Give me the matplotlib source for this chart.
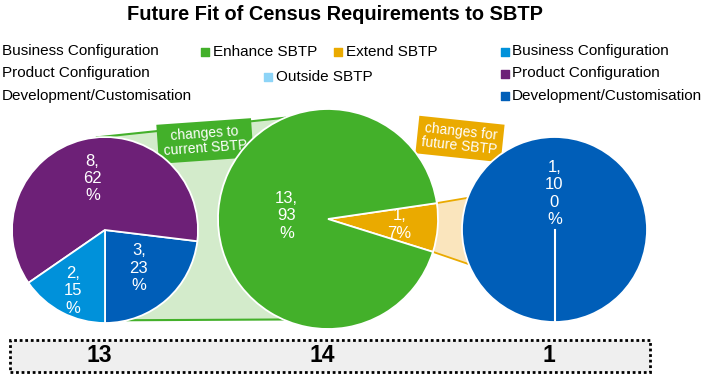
import numpy as np
import matplotlib
matplotlib.use('Agg')
import matplotlib.pyplot as plt
from matplotlib.patches import Polygon, Rectangle, Circle

plt.rcParams['font.family'] = ['Liberation Sans', 'DejaVu Sans']

# categories and counts for each of the three pies
left_names = ['Development/Customisation', 'Product Configuration', 'Business Configuration']
left_values = [3, 8, 2]
mid_names = ['Extend SBTP', 'Enhance SBTP']
mid_values = [1, 13]
right_names = ['Development/Customisation']
right_values = [1]

legend_plain = ['Business Configuration', 'Product Configuration', 'Development/Customisation']
legend_mid = ['Enhance SBTP', 'Extend SBTP', 'Outside SBTP']
legend_right = ['Business Configuration', 'Product Configuration', 'Development/Customisation']
band_texts = ['changes to\ncurrent SBTP', 'changes for\nfuture SBTP']
title = 'Future Fit of Census Requirements to SBTP'

colors = {
    'Business Configuration': '#0091DA',
    'Product Configuration': '#6D2077',
    'Development/Customisation': '#005EB8',
    'Enhance SBTP': '#43B02A',
    'Extend SBTP': '#EAAA00',
    'Outside SBTP': '#8DD4F7',
}

W, H = 706, 376
fig = plt.figure(figsize=(W / 100, H / 100), dpi=100)
ax = fig.add_axes([0, 0, 1, 1])


def slice_label(v, total):
    pct = str(int(round(100 * v / total)))
    if len(pct) == 1:
        tail = [pct + '%']
    else:
        tail = [pct[i:i + 2] for i in range(0, len(pct), 2)] + ['%']
    return '\n'.join(['%d,' % v] + tail)


def draw_pie(values, names, center, radius, start, dists):
    wedges, _ = ax.pie(values, colors=[colors[n] for n in names], startangle=start,
                       counterclock=True, center=center, radius=radius,
                       wedgeprops=dict(edgecolor='white', linewidth=1.3, zorder=3))
    clip = Circle(center, radius, transform=ax.transData)
    total = sum(values)
    for w, v, d in zip(wedges, values, dists):
        mid = np.deg2rad((w.theta1 + w.theta2) / 2)
        x = center[0] + d * radius * np.cos(mid)
        y = center[1] + d * radius * np.sin(mid)
        t = ax.text(x, y, slice_label(v, total), color='white', fontsize=12,
                    ha='center', va='center', zorder=4)
        t.set_clip_path(clip)
    return wedges


def on_circle(center, radius, ang):
    a = np.deg2rad(ang)
    return center[0] + radius * np.cos(a), center[1] + radius * np.sin(a)


c1, r1 = (105, 146), 93
c2, r2 = (328, 157), 110
c3, r3 = (554.5, 146.5), 92.5

w1 = draw_pie(left_values, left_names, c1, r1, -90, [0.55, 0.57, 0.74])
w2 = draw_pie(mid_values, mid_names, c2, r2, -17.4, [0.65, 0.38])
w3 = draw_pie(right_values, right_names, c3, r3, -90, [0.39])

# single-slice pie still shows its seam
sx, sy = on_circle(c3, r3, w3[0].theta1)
ax.plot([c3[0], sx], [c3[1], sy], color='white', lw=1.5, zorder=3.5)

# band joining the left pie to the green pie
lt, lb = on_circle(c1, r1, 95), on_circle(c1, r1, -76)
rt, rb = on_circle(c2, r2, 113), on_circle(c2, r2, 246)
ax.add_patch(Polygon([lt, rt, rb, lb], closed=True, fc='#D3EBCB', ec='none', zorder=1))
ax.plot([lt[0], rt[0]], [lt[1], rt[1]], color=colors['Enhance SBTP'], lw=1.5, zorder=1.5)
ax.plot([lb[0], rb[0]], [lb[1], rb[1]], color=colors['Enhance SBTP'], lw=1.5, zorder=1.5)

# band joining the orange slice to the right pie
ext = w2[0]
ot, ob = on_circle(c2, r2, ext.theta2), on_circle(c2, r2, ext.theta1)
bt, bb = on_circle(c3, r3, 160), on_circle(c3, r3, 202)
ax.add_patch(Polygon([ot, bt, bb, ob], closed=True, fc='#FAE5BD', ec='none', zorder=1))
ax.plot([ot[0], bt[0]], [ot[1], bt[1]], color=colors['Extend SBTP'], lw=1.3, zorder=1.5)
ax.plot([ob[0], bb[0]], [ob[1], bb[1]], color=colors['Extend SBTP'], lw=1.3, zorder=1.5)

ax.text(205, 235, band_texts[0], color='white', fontsize=10, ha='center', va='center',
        rotation=4, linespacing=1.0, zorder=2,
        bbox=dict(boxstyle='square,pad=0.4', fc=colors['Enhance SBTP'], ec='none'))
ax.text(460, 237, band_texts[1], color='white', fontsize=10, ha='center', va='center',
        rotation=-6, linespacing=1.0, zorder=2,
        bbox=dict(boxstyle='square,pad=0.35', fc=colors['Extend SBTP'], ec='none'))

ax.text(334.5, 362, title, fontsize=14.4, fontweight='bold', ha='center', va='center')

# legends
rows = [324.5, 302.5, 280]
for name, y in zip(legend_plain, rows):
    ax.text(2, y, name, fontsize=11, ha='left', va='center')
mid_pos = [(205, 324.5), (338, 324.5), (268, 299.3)]
for name, (x, y) in zip(legend_mid, mid_pos):
    ax.scatter([x], [y], marker='s', s=26, color=colors[name], zorder=5)
    ax.text(x + 8, y, name, fontsize=11, ha='left', va='center')
for name, y in zip(legend_right, rows):
    ax.scatter([504.5], [y], marker='s', s=26, color=colors[name], zorder=5)
    ax.text(512, y, name, fontsize=11, ha='left', va='center')

# totals strip
ax.add_patch(Rectangle((10, 4), 640, 32, fc='#EFEFEF', ec='black', lw=2,
                       linestyle=(0, (1, 1)), zorder=1))
for c, vals in zip([c1, c2, c3], [left_values, mid_values, right_values]):
    ax.text(c[0] - 6, 20, str(sum(vals)), fontsize=16.5, fontweight='bold',
            family=['Liberation Sans Narrow', 'Liberation Sans'],
            ha='center', va='center', zorder=2)

ax.set_xlim(0, W)
ax.set_ylim(0, H)
ax.set_aspect('auto')
ax.axis('off')
fig.savefig('out.png', dpi=100)
